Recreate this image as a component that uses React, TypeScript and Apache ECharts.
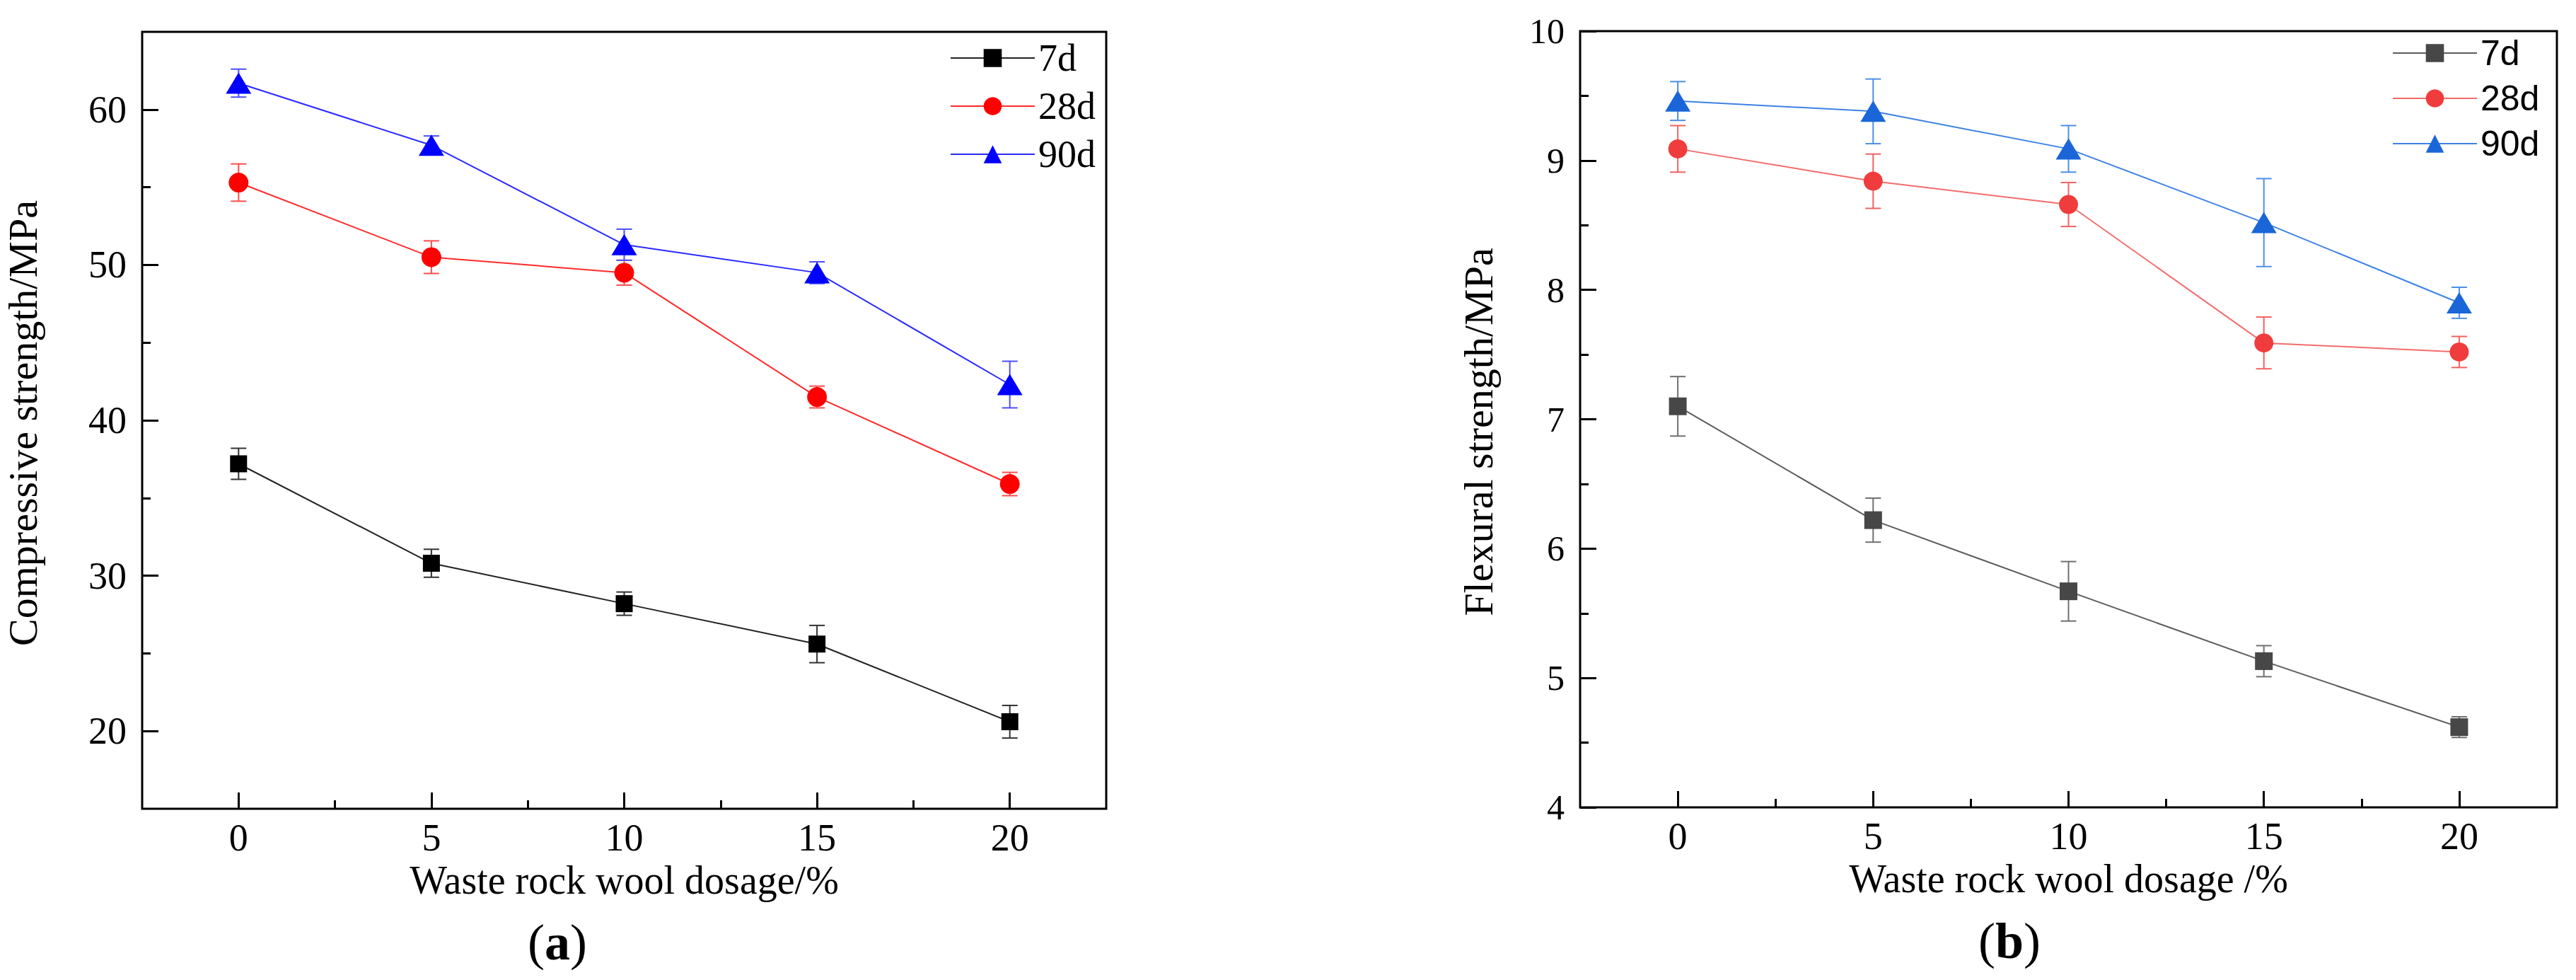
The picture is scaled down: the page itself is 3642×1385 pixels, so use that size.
import { useEffect, useRef } from "react";
import * as echarts from "echarts";

// dosage of waste rock wool (%), shared by both panels
const dosage = [0, 5, 10, 15, 20];
const ages = ["7d", "28d", "90d"];

// (a) compressive strength, MPa
const compressive7d = [37.2, 30.8, 28.2, 25.6, 20.6];
const compressive28d = [55.3, 50.5, 49.5, 41.5, 35.9];
const compressive90d = [61.7, 57.7, 51.3, 49.5, 42.3];
const compressiveErr7d = [1.0, 0.9, 0.75, 1.2, 1.05];
const compressiveErr28d = [1.2, 1.05, 0.8, 0.7, 0.75];
const compressiveErr90d = [0.9, 0.6, 1.0, 0.7, 1.5];

// (b) flexural strength, MPa
const flexural7d = [7.1, 6.22, 5.67, 5.13, 4.62];
const flexural28d = [9.09, 8.84, 8.66, 7.59, 7.52];
const flexural90d = [9.46, 9.38, 9.09, 8.52, 7.9];
const flexuralErr7d = [0.23, 0.17, 0.23, 0.12, 0.08];
const flexuralErr28d = [0.18, 0.21, 0.17, 0.2, 0.12];
const flexuralErr90d = [0.15, 0.25, 0.18, 0.34, 0.12];

// tick positions
const xMajorTicks = [0, 5, 10, 15, 20];
const xMinorTicks = [2.5, 7.5, 12.5, 17.5];
const compressiveMajorTicks = [20, 30, 40, 50, 60];
const compressiveMinorTicks = [25, 35, 45, 55];
const flexuralMajorTicks = [4, 5, 6, 7, 8, 9, 10];
const flexuralMinorTicks = [4.5, 5.5, 6.5, 7.5, 8.5, 9.5];

const SERIF = '"Liberation Serif", "Times New Roman", serif';
const SANS = '"Liberation Sans", Arial, sans-serif';

const symbols = ["rect", "circle", "triangle"];

function errorData(values: number[], errs: number[]) {
  return dosage.map((x, i) => [x, values[i] - errs[i], values[i] + errs[i]]);
}

function errorSeries(name: string, idx: number, values: number[], errs: number[], color: string) {
  return {
    name,
    type: "custom",
    xAxisIndex: idx * 2,
    yAxisIndex: idx * 2,
    z: 1,
    silent: true,
    data: errorData(values, errs),
    encode: { x: 0, y: [1, 2] },
    renderItem: (_params: any, api: any) => {
      const x = api.value(0);
      const lo = api.coord([x, api.value(1)]);
      const hi = api.coord([x, api.value(2)]);
      const hw = 11;
      const style = { stroke: color, lineWidth: 2 };
      return {
        type: "group",
        children: [
          { type: "line", shape: { x1: hi[0], y1: hi[1], x2: lo[0], y2: lo[1] }, style },
          { type: "line", shape: { x1: hi[0] - hw, y1: hi[1], x2: hi[0] + hw, y2: hi[1] }, style },
          { type: "line", shape: { x1: lo[0] - hw, y1: lo[1], x2: lo[0] + hw, y2: lo[1] }, style },
        ],
      };
    },
  };
}

function lineSeries(name: string, idx: number, k: number, values: number[], color: string, lineColor: string, size: any) {
  return {
    name,
    type: "line",
    xAxisIndex: idx * 2,
    yAxisIndex: idx * 2,
    z: 3,
    data: dosage.map((x, i) => [x, values[i]]),
    symbol: symbols[k],
    symbolSize: size,
    itemStyle: { color },
    lineStyle: { color: lineColor, width: 2 },
  };
}

function xAxes(gridIndex: number, name: string) {
  const tickStyle = { color: "#000", width: 3 };
  return [
    {
      type: "value",
      gridIndex,
      position: "bottom",
      min: -2.5,
      max: 22.5,
      name,
      nameLocation: "middle",
      nameGap: 64,
      nameTextStyle: { fontFamily: SERIF, fontSize: 56, color: "#000" },
      axisLine: { show: false, onZero: false },
      splitLine: { show: false },
      axisTick: { inside: true, length: 23, customValues: xMajorTicks, lineStyle: tickStyle },
      axisLabel: { customValues: xMajorTicks, margin: 14, fontFamily: SERIF, fontSize: 54, color: "#000" },
    },
    {
      type: "value",
      gridIndex,
      position: "bottom",
      min: -2.5,
      max: 22.5,
      axisLine: { show: false, onZero: false },
      splitLine: { show: false },
      axisLabel: { show: false },
      axisTick: { inside: true, length: 12, customValues: xMinorTicks, lineStyle: tickStyle },
    },
  ];
}

function yAxes(
  gridIndex: number,
  name: string,
  min: number,
  max: number,
  major: number[],
  minor: number[],
  nameGap: number,
  labelSize: number,
  namePadding: number[]
) {
  const tickStyle = { color: "#000", width: 3 };
  return [
    {
      type: "value",
      gridIndex,
      position: "left",
      min,
      max,
      name,
      nameLocation: "middle",
      nameGap,
      nameTextStyle: { fontFamily: SERIF, fontSize: 58, color: "#000", padding: namePadding },
      axisLine: { show: false, onZero: false },
      splitLine: { show: false },
      axisTick: { inside: true, length: 23, customValues: major, lineStyle: tickStyle },
      axisLabel: { customValues: major, margin: 22, fontFamily: SERIF, fontSize: labelSize, color: "#000" },
    },
    {
      type: "value",
      gridIndex,
      position: "left",
      min,
      max,
      axisLine: { show: false, onZero: false },
      splitLine: { show: false },
      axisLabel: { show: false },
      axisTick: { inside: true, length: 12, customValues: minor, lineStyle: tickStyle },
    },
  ];
}

export default function App() {
  const chartRef = useRef<HTMLDivElement>(null);

  useEffect(() => {
    if (!chartRef.current) return;
    const chart = echarts.init(chartRef.current, null, { renderer: "svg" });

    const aColors = ["#000000", "#ff0000", "#0000ff"];
    const aLines = ["#222222", "#ff2a2a", "#2a2aff"];
    const aErr = ["#333333", "#ff4d4d", "#4d4dff"];
    const bColors = ["#474747", "#f03c3c", "#1a66d9"];
    const bLines = ["#5c5c5c", "#f46c6c", "#3d82e6"];
    const bErr = ["#707070", "#f26262", "#4d8fe6"];

    const aValues = [compressive7d, compressive28d, compressive90d];
    const aErrs = [compressiveErr7d, compressiveErr28d, compressiveErr90d];
    const bValues = [flexural7d, flexural28d, flexural90d];
    const bErrs = [flexuralErr7d, flexuralErr28d, flexuralErr90d];
    const aSizes: any[] = [24, 28, [36, 30]];
    const bSizes: any[] = [25, 27, [36, 30]];

    const series: any[] = [];
    ages.forEach((age, k) => {
      series.push(errorSeries("a-err-" + age, 0, aValues[k], aErrs[k], aErr[k]));
      series.push(errorSeries("b-err-" + age, 1, bValues[k], bErrs[k], bErr[k]));
    });
    ages.forEach((age, k) => {
      series.push(lineSeries("a-" + age, 0, k, aValues[k], aColors[k], aLines[k], aSizes[k]));
      series.push(lineSeries("b-" + age, 1, k, bValues[k], bColors[k], bLines[k], bSizes[k]));
    });

    const legendBase = {
      orient: "vertical",
      padding: 0,
      itemWidth: 119,
      itemHeight: 32,
      itemGap: 14,
      selectedMode: false,
      formatter: (n: string) => n.slice(2),
    };

    chart.setOption({
      animation: false,
      backgroundColor: "#ffffff",
      textStyle: { fontFamily: SERIF },
      grid: [
        { left: 201, top: 45, width: 1363, height: 1098, show: true, borderColor: "#000", borderWidth: 3, backgroundColor: "transparent" },
        { left: 2234, top: 44, width: 1381, height: 1097, show: true, borderColor: "#000", borderWidth: 3, backgroundColor: "transparent" },
      ],
      xAxis: [...xAxes(0, "Waste rock wool dosage/%"), ...xAxes(1, "Waste rock wool dosage /%")],
      yAxis: [
        ...yAxes(0, "Compressive strength/MPa", 15, 65, compressiveMajorTicks, compressiveMinorTicks, 140, 54, [0, 8, 0, 0]),
        ...yAxes(1, "Flexural strength/MPa", 4, 10, flexuralMajorTicks, flexuralMinorTicks, 115, 50, [0, 36, 0, 0]),
      ],
      legend: [
        {
          ...legendBase,
          left: 1343,
          top: 55,
          data: ages.map((a) => "a-" + a),
          textStyle: { fontFamily: SERIF, fontSize: 54, color: "#000" },
        },
        {
          ...legendBase,
          left: 3382,
          top: 50,
          data: ages.map((a) => "b-" + a),
          textStyle: { fontFamily: SANS, fontSize: 50, color: "#000" },
        },
      ],
      graphic: [
        {
          type: "text",
          x: 788,
          y: 1332,
          style: {
            text: "{p|(}{b|a}{p|)}",
            align: "center",
            verticalAlign: "middle",
            rich: {
              p: { fontFamily: SERIF, fontSize: 72, fill: "#000" },
              b: { fontFamily: SERIF, fontSize: 72, fontWeight: "bold", fill: "#000" },
            },
          },
        },
        {
          type: "text",
          x: 2841,
          y: 1330,
          style: {
            text: "{p|(}{b|b}{p|)}",
            align: "center",
            verticalAlign: "middle",
            rich: {
              p: { fontFamily: SERIF, fontSize: 72, fill: "#000" },
              b: { fontFamily: SERIF, fontSize: 72, fontWeight: "bold", fill: "#000" },
            },
          },
        },
      ],
      series,
    });

    return () => {
      chart.dispose();
    };
  }, []);

  return (
    <div
      ref={chartRef}
      style={{ position: "fixed", left: 0, top: 0, width: "3642px", height: "1385px", background: "#fff" }}
    />
  );
}
